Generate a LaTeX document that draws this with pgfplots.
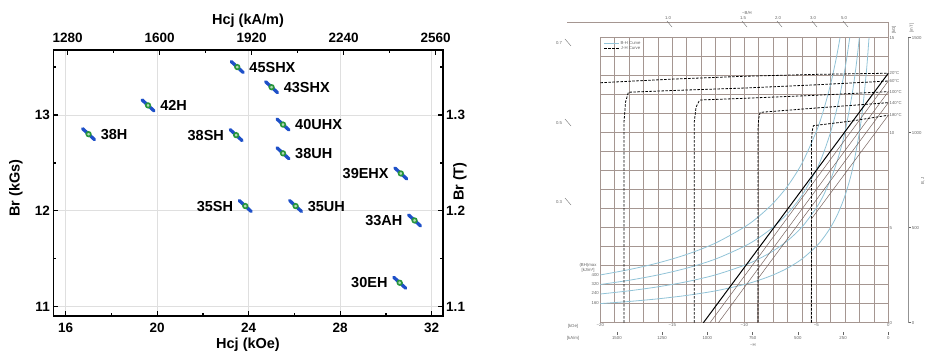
\documentclass[border=0pt]{standalone}
\usepackage{pgfplots}
\pgfplotsset{compat=1.18}
\usepackage{fontspec}
\setmainfont{Liberation Sans}
\definecolor{gridc}{RGB}{165,150,145}
\definecolor{bluec}{RGB}{145,195,215}
\definecolor{bhc}{RGB}{120,100,95}
\definecolor{tgray}{RGB}{100,100,100}
\definecolor{segblue}{RGB}{30,80,200}
\definecolor{mgreen}{RGB}{40,150,60}
\newcommand{\tf}{\fontsize{4.3}{5}\selectfont}
\newcommand{\tkf}{\bfseries\fontsize{13.5}{14}\selectfont}
\newcommand{\lbf}{\bfseries\fontsize{14.5}{15}\selectfont}

\pgfplotstableread{
x y label
17.0 12.80 38H
19.6 13.10 42H
23.5 13.50 45SHX
25.0 13.29 43SHX
25.5 12.90 40UHX
25.5 12.60 38UH
26.05 12.05 35UH
}\rightlab
\pgfplotstableread{
x y label
23.45 12.79 38SH
30.65 12.39 39EHX
23.85 12.05 35SH
31.25 11.90 33AH
30.6 11.25 30EH
}\leftlab

\begin{document}
\begin{tikzpicture}
\path[use as bounding box] (0,0) rectangle (937pt,358pt);

% ================= LEFT PANEL =================
\begin{axis}[
  at={(53.3pt,42pt)}, anchor=south west, scale only axis,
  width=389.4pt, height=266pt,
  xmin=15.458, xmax=32.48, ymin=10.903, ymax=13.678,
  xtick={16,20,24,28,32}, minor xtick={18,22,26,30},
  ytick={11,12,13}, minor ytick={11.5,12.5,13.5},
  xtick pos=left, ytick pos=left,
  tick align=inside, major tick length=5pt, minor tick length=3pt,
  every tick/.style={black, line width=1.2pt},
  axis line style={line width=1.6pt},
  grid=major, major grid style={gray!25, line width=0.8pt},
  ticklabel style={font=\tkf},
  xticklabel style={yshift=-3.5pt},
  /pgf/number format/assume math mode=true,
  xlabel={Hcj (kOe)}, ylabel={Br (kGs)},
  label style={font=\lbf},
  xlabel style={at={(axis description cs:0.5,-0.109)}, anchor=center},
  ylabel style={at={(axis description cs:-0.096,0.48)}, anchor=center},
  unbounded coords=jump,
]
\addplot[segblue, line width=3.3pt, line cap=round] coordinates {
(16.74,12.857) (17.26,12.743) (nan,nan)
(19.34,13.157) (19.86,13.043) (nan,nan)
(23.24,13.557) (23.76,13.443) (nan,nan)
(24.74,13.347) (25.26,13.233) (nan,nan)
(23.19,12.847) (23.71,12.733) (nan,nan)
(25.24,12.957) (25.76,12.843) (nan,nan)
(25.24,12.657) (25.76,12.543) (nan,nan)
(30.39,12.447) (30.91,12.333) (nan,nan)
(23.59,12.107) (24.11,11.993) (nan,nan)
(25.79,12.107) (26.31,11.993) (nan,nan)
(30.99,11.957) (31.51,11.843) (nan,nan)
(30.34,11.307) (30.86,11.193)
};
\addplot[only marks, mark=*, mark size=2.3pt,
  mark options={draw=mgreen, fill=white!65!mgreen, line width=1.6pt}]
  table[x=x, y=y] {\rightlab};
\addplot[only marks, mark=*, mark size=2.3pt,
  mark options={draw=mgreen, fill=white!65!mgreen, line width=1.6pt}]
  table[x=x, y=y] {\leftlab};
\addplot[draw=none, mark=none, nodes near coords, point meta=explicit symbolic,
  every node near coord/.append style={anchor=west, inner sep=0pt, xshift=12pt, font=\lbf}]
  table[x=x, y=y, meta=label] {\rightlab};
\addplot[draw=none, mark=none, nodes near coords, point meta=explicit symbolic,
  every node near coord/.append style={anchor=east, inner sep=0pt, xshift=-12pt, font=\lbf}]
  table[x=x, y=y, meta=label] {\leftlab};
\end{axis}

% top axis (kA/m)
\begin{axis}[
  at={(53.3pt,42pt)}, anchor=south west, scale only axis,
  width=389.4pt, height=266pt,
  xmin=1230.1, xmax=2584.7, ymin=0, ymax=1,
  axis x line*=top, axis y line=none,
  xtick={1280,1600,1920,2240,2560}, minor xtick={1440,1760,2080,2400},
  tick align=inside, major tick length=5pt, minor tick length=3pt,
  every tick/.style={black, line width=1.2pt},
  axis line style={line width=1.6pt},
  ticklabel style={font=\tkf},
  xticklabel style={yshift=4pt},
  /pgf/number format/assume math mode=true,
  /pgf/number format/1000 sep={},
  xlabel={Hcj (kA/m)}, label style={font=\lbf},
  xlabel style={at={(axis description cs:0.5,1.11)}, anchor=center},
]
\end{axis}

% right axis (T)
\begin{axis}[
  at={(53.3pt,42pt)}, anchor=south west, scale only axis,
  width=389.4pt, height=266pt,
  xmin=0, xmax=1, ymin=1.0903, ymax=1.3678,
  axis y line*=right, axis x line=none,
  ytick={1.1,1.2,1.3}, minor ytick={1.15,1.25,1.35},
  tick align=inside, major tick length=5pt, minor tick length=3pt,
  every tick/.style={black, line width=1.2pt},
  axis line style={line width=1.6pt},
  ticklabel style={font=\tkf},
  /pgf/number format/assume math mode=true,
  /pgf/number format/fixed, /pgf/number format/precision=1,
  ylabel={Br (T)}, label style={font=\lbf},
  ylabel style={at={(axis description cs:1.044,0.505)}, anchor=center},
]
\end{axis}

% ================= RIGHT PANEL =================
\begin{axis}[
  at={(600.3pt,35.3pt)}, anchor=south west, scale only axis,
  width=288pt, height=285pt,
  xmin=-20, xmax=0, ymin=0, ymax=15,
  xtick={-20,-19,...,0}, ytick={0,1,...,15},
  xticklabels={−20,,,,,−15,,,,,−10,,,,,−5,,,,,0},
  yticklabels={0,,,,,5,,,,,10,,,,,15},
  yticklabel pos=right,
  major tick length=0pt,
  grid=major, major grid style={gridc, line width=0.45pt},
  axis line style={gridc, line width=0.45pt},
  ticklabel style={font=\tf, text=tgray, inner sep=1pt},
  legend style={at={(0.012,0.99)}, anchor=north west, draw=none, fill=none,
    font=\tf, text=tgray, inner sep=0pt, row sep=-1.5pt, nodes={inner sep=0.8pt}},
  legend image code/.code={\draw[#1] (0pt,0pt) -- (15pt,0pt);},
]
% (BH)max hyperbolas
\addplot[bluec, line width=0.8pt, smooth] coordinates {
(-20,2.515) (-18,2.794) (-16,3.144) (-14,3.593) (-12,4.192) (-10,5.03) (-9,5.589) (-8,6.288) (-7,7.186) (-6,8.383) (-5,10.06) (-4.5,11.178) (-4,12.575) (-3.6,13.972) (-3.353,15)};
\addlegendentry{B-H Curve}
\addplot[bluec, line width=0.8pt, smooth, forget plot] coordinates {
(-20,2.01) (-18,2.233) (-16,2.513) (-14,2.871) (-12,3.35) (-10,4.02) (-9,4.467) (-8,5.025) (-7,5.743) (-6,6.7) (-5,8.04) (-4.5,8.933) (-4,10.05) (-3.5,11.486) (-3,13.4) (-2.68,15)};
\addplot[bluec, line width=0.8pt, smooth, forget plot] coordinates {
(-20,1.51) (-18,1.678) (-16,1.888) (-14,2.157) (-12,2.517) (-10,3.02) (-9,3.356) (-8,3.775) (-7,4.314) (-6,5.033) (-5,6.04) (-4.5,6.711) (-4,7.55) (-3.5,8.629) (-3,10.067) (-2.5,12.08) (-2.2,13.727) (-2.013,15)};
\addplot[bluec, line width=0.8pt, smooth, forget plot] coordinates {
(-20,1.005) (-18,1.117) (-16,1.256) (-14,1.436) (-12,1.675) (-10,2.01) (-9,2.233) (-8,2.513) (-7,2.871) (-6,3.35) (-5,4.02) (-4.5,4.467) (-4,5.025) (-3.5,5.743) (-3,6.7) (-2.5,8.04) (-2,10.05) (-1.75,11.486) (-1.5,13.4) (-1.34,15)};
% B-H lines
\addplot[black, line width=1pt, forget plot] coordinates {(-12.84,0) (0,13.13)};
\addplot[bhc, line width=0.5pt, forget plot] coordinates {(-12.38,0) (0,12.72)};
\addplot[bhc, line width=0.5pt, forget plot] coordinates {(-11.8,0) (0,12.16)};
\addplot[bhc, line width=0.5pt, forget plot] coordinates {(-9.08,0) (-9.05,2.32) (0,11.58)};
\addplot[bhc, line width=0.5pt, forget plot] coordinates {(-5.36,0) (-5.33,5.47) (0,10.92)};
% J-H curves
\addplot[black, line width=0.8pt, dash pattern=on 2.5pt off 1.5pt] coordinates {
(-20,12.63) (-15,12.82) (-10,12.97) (-5,13.07) (0,13.13)};
\addlegendentry{J-H Curve}
\addplot[black, line width=0.8pt, dash pattern=on 2.5pt off 1.5pt, forget plot] coordinates {
(-18.35,0) (-18.35,10.6) (-18.25,11.6) (-18.05,12.13) (-15,12.22) (-10,12.35) (-5,12.52) (0,12.72)};
\addplot[black, line width=0.8pt, dash pattern=on 2.5pt off 1.5pt, forget plot] coordinates {
(-13.47,0) (-13.47,10.6) (-13.35,11.35) (-13.1,11.72) (-10,11.81) (-5,11.97) (0,12.16)};
\addplot[black, line width=0.8pt, dash pattern=on 2.5pt off 1.5pt, forget plot] coordinates {
(-9.05,0) (-9.05,10.2) (-9.0,10.75) (-8.9,11.07) (-5,11.3) (0,11.58)};
\addplot[black, line width=0.8pt, dash pattern=on 2.5pt off 1.5pt, forget plot] coordinates {
(-5.33,0) (-5.33,9.6) (-5.28,10.1) (-5.2,10.37) (-2.5,10.62) (0,10.92)};
\end{axis}

% kA/m scale
\begin{axis}[
  at={(600.3pt,26pt)}, anchor=south west, scale only axis,
  width=288pt, height=10pt,
  xmin=-1591.5, xmax=0, ymin=0, ymax=1,
  axis x line*=bottom, axis y line=none, axis line style={draw=none},
  xtick={-1500,-1250,-1000,-750,-500,-250,0},
  xticklabels={1500,1250,1000,750,500,250,0},
  tick align=outside, major tick length=3pt,
  tick style={tgray, line width=0.4pt},
  ticklabel style={font=\tf, text=tgray, inner sep=1pt},
]
\end{axis}

% mT scale
\begin{axis}[
  at={(897.7pt,35.3pt)}, anchor=south west, scale only axis,
  width=10pt, height=285pt,
  xmin=0, xmax=1, ymin=0, ymax=1500,
  axis y line*=right, axis x line=none,
  axis line style={tgray!70, line width=0.4pt},
  ytick={0,500,1000,1500},
  tick align=outside, major tick length=3pt,
  tick style={tgray, line width=0.4pt},
  ticklabel style={font=\tf, text=tgray, inner sep=1pt},
  /pgf/number format/assume math mode=true,
  /pgf/number format/1000 sep={},
]
\end{axis}

% annotations of the right panel
\begin{scope}[font=\tf, text=tgray]
\draw[gridc, line width=0.5pt] (567pt,335.3pt) -- (888.3pt,335.3pt) -- (888.3pt,320.3pt);
\node at (747pt,345pt) {−B/H};
\node at (668pt,340pt) {1.0};
\node at (743pt,340pt) {1.5};
\node at (778pt,340pt) {2.0};
\node at (813pt,340pt) {3.0};
\node at (844pt,340pt) {5.0};
\foreach \xx in {668,743,778,813,844}
  \draw[tgray, line width=0.35pt] (\xx pt-1pt,337pt) -- (\xx pt+4pt,331pt);
\node at (559pt,314.7pt) {0.7};
\node at (559pt,234.7pt) {0.5};
\node at (559pt,155.7pt) {0.3};
\draw[tgray, line width=0.35pt] (565pt,319pt) -- (571pt,312pt);
\draw[tgray, line width=0.35pt] (565pt,239pt) -- (571pt,232pt);
\draw[tgray, line width=0.35pt] (565pt,160pt) -- (571pt,153pt);
\node at (573pt,32pt) {[kOe]};
\node at (573pt,19.7pt) {[kA/m]};
\node at (753pt,13pt) {−H};
\node at (588pt,93pt) {(BH)max};
\node at (588pt,88pt) {[kJ/m³]};
\node[anchor=east, inner sep=0pt] at (599pt,83pt) {400};
\node[anchor=east, inner sep=0pt] at (599pt,73.7pt) {320};
\node[anchor=east, inner sep=0pt] at (599pt,64.7pt) {240};
\node[anchor=east, inner sep=0pt] at (599pt,54.7pt) {160};
\node[anchor=west, inner sep=0pt] at (889.5pt,284.7pt) {20°C};
\node[anchor=west, inner sep=0pt] at (889.5pt,277pt) {60°C};
\node[anchor=west, inner sep=0pt] at (889.5pt,266.3pt) {100°C};
\node[anchor=west, inner sep=0pt] at (889.5pt,255.3pt) {140°C};
\node[anchor=west, inner sep=0pt] at (889.5pt,242.7pt) {180°C};
\node[rotate=90] at (894pt,328pt) {[kG]};
\node[rotate=90] at (911.7pt,330pt) {[mT]};
\node[rotate=90] at (923pt,177pt) {B, J};
\end{scope}
\end{tikzpicture}
\end{document}
